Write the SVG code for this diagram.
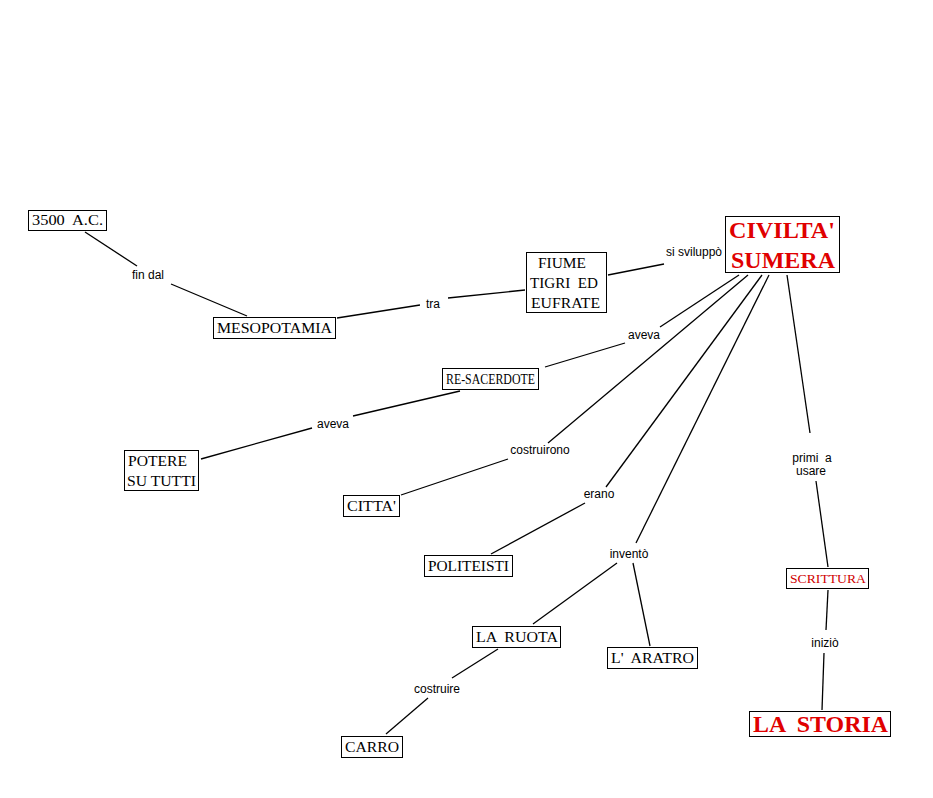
<svg xmlns="http://www.w3.org/2000/svg" width="933" height="798" viewBox="0 0 933 798">
<style>
.box{fill:#fff;stroke:#000;stroke-width:1}
text{white-space:pre}
.t{font-family:"Liberation Serif","Times New Roman",serif;font-size:14px;fill:#000}
.big{font-family:"Liberation Serif","Times New Roman",serif;font-size:23px;font-weight:bold;fill:#e00000}
.red{fill:#d00000}
.lb{font-family:"Liberation Sans",Arial,sans-serif;font-size:12px;fill:#000;text-anchor:middle}
.c line{stroke:#000;stroke-width:1.3}
</style>
<rect width="933" height="798" fill="#fff"/>
<g class="c" id="connectors">
<line x1="85" y1="232" x2="137" y2="266"/>
<line x1="171" y1="284" x2="247" y2="316"/>
<line x1="337" y1="318" x2="420" y2="305"/>
<line x1="448" y1="298" x2="525" y2="290"/>
<line x1="608" y1="275" x2="664" y2="264"/>
<line x1="739" y1="275" x2="660" y2="327"/>
<line x1="625" y1="343" x2="545" y2="367"/>
<line x1="460" y1="391" x2="353" y2="416"/>
<line x1="312" y1="428" x2="201" y2="459"/>
<line x1="748" y1="275" x2="548" y2="443"/>
<line x1="508" y1="459" x2="401" y2="495"/>
<line x1="762" y1="275" x2="606" y2="487"/>
<line x1="585" y1="503" x2="491" y2="554"/>
<line x1="769" y1="275" x2="636" y2="543"/>
<line x1="617" y1="563" x2="533" y2="624"/>
<line x1="633" y1="563" x2="650" y2="646"/>
<line x1="498" y1="649" x2="452" y2="678"/>
<line x1="428" y1="698" x2="386" y2="734"/>
<line x1="787" y1="275" x2="810" y2="433"/>
<line x1="816" y1="481" x2="828" y2="567"/>
<line x1="828" y1="590" x2="826" y2="630"/>
<line x1="824" y1="653" x2="822" y2="710"/>
<text class="lb" x="148" y="279">fin dal</text>
<text class="lb" x="433" y="308">tra</text>
<text class="lb" x="694" y="256">si sviluppò</text>
<text class="lb" x="644" y="339">aveva</text>
<text class="lb" x="333" y="428">aveva</text>
<text class="lb" x="540" y="454">costruirono</text>
<text class="lb" x="599" y="498">erano</text>
<text class="lb" x="629" y="558">inventò</text>
<text class="lb" x="437" y="693">costruire</text>
<text class="lb" x="812" y="462">primi  a</text>
<text class="lb" x="811" y="475">usare</text>
<text class="lb" x="825" y="647">iniziò</text>
</g>
<g id="n3500"><rect class="box" x="28.5" y="210.5" width="78" height="20"/><text class="t" x="32" y="225" textLength="71" lengthAdjust="spacingAndGlyphs">3500  A.C.</text></g>
<g id="mesopotamia"><rect class="box" x="213.5" y="317.5" width="122" height="21"/><text class="t" x="217" y="333" textLength="115" lengthAdjust="spacingAndGlyphs">MESOPOTAMIA</text></g>
<g id="fiume"><rect class="box" x="526.5" y="252.5" width="80" height="60"/><text class="t" x="538" y="268" textLength="48" lengthAdjust="spacingAndGlyphs">FIUME</text><text class="t" x="530" y="288" textLength="68" lengthAdjust="spacingAndGlyphs">TIGRI  ED</text><text class="t" x="531" y="308" textLength="69" lengthAdjust="spacingAndGlyphs">EUFRATE</text></g>
<g id="civilta"><rect class="box" x="725.5" y="216.5" width="114" height="56"/><text class="big" x="729" y="238" textLength="106" lengthAdjust="spacingAndGlyphs">CIVILTA'</text><text class="big" x="731" y="268" textLength="104" lengthAdjust="spacingAndGlyphs">SUMERA</text></g>
<g id="resacerdote"><rect class="box" x="442.5" y="368.5" width="96" height="21"/><text class="t" x="446" y="384" textLength="89" lengthAdjust="spacingAndGlyphs">RE-SACERDOTE</text></g>
<g id="potere"><rect class="box" x="124.5" y="450.5" width="74" height="40"/><text class="t" x="128" y="466" textLength="59" lengthAdjust="spacingAndGlyphs">POTERE</text><text class="t" x="127" y="486" textLength="69" lengthAdjust="spacingAndGlyphs">SU TUTTI</text></g>
<g id="citta"><rect class="box" x="343.5" y="495.5" width="56" height="21"/><text class="t" x="347" y="511" textLength="49" lengthAdjust="spacingAndGlyphs">CITTA'</text></g>
<g id="politeisti"><rect class="box" x="424.5" y="555.5" width="88" height="21"/><text class="t" x="428" y="571" textLength="81" lengthAdjust="spacingAndGlyphs">POLITEISTI</text></g>
<g id="laruota"><rect class="box" x="472.5" y="626.5" width="88" height="21"/><text class="t" x="476" y="642" textLength="82" lengthAdjust="spacingAndGlyphs">LA  RUOTA</text></g>
<g id="laratro"><rect class="box" x="607.5" y="647.5" width="90" height="21"/><text class="t" x="611" y="663" textLength="83" lengthAdjust="spacingAndGlyphs">L'  ARATRO</text></g>
<g id="carro"><rect class="box" x="341.5" y="736.5" width="61" height="21"/><text class="t" x="345" y="752" textLength="54" lengthAdjust="spacingAndGlyphs">CARRO</text></g>
<g id="scrittura"><rect class="box" x="786.5" y="568.5" width="82" height="20"/><text class="t red" x="790" y="583" textLength="76" lengthAdjust="spacingAndGlyphs" style="font-size:13px">SCRITTURA</text></g>
<g id="lastoria"><rect class="box" x="749.5" y="711.5" width="141" height="25"/><text class="big" x="753" y="732" textLength="135" lengthAdjust="spacingAndGlyphs">LA  STORIA</text></g>
</svg>
